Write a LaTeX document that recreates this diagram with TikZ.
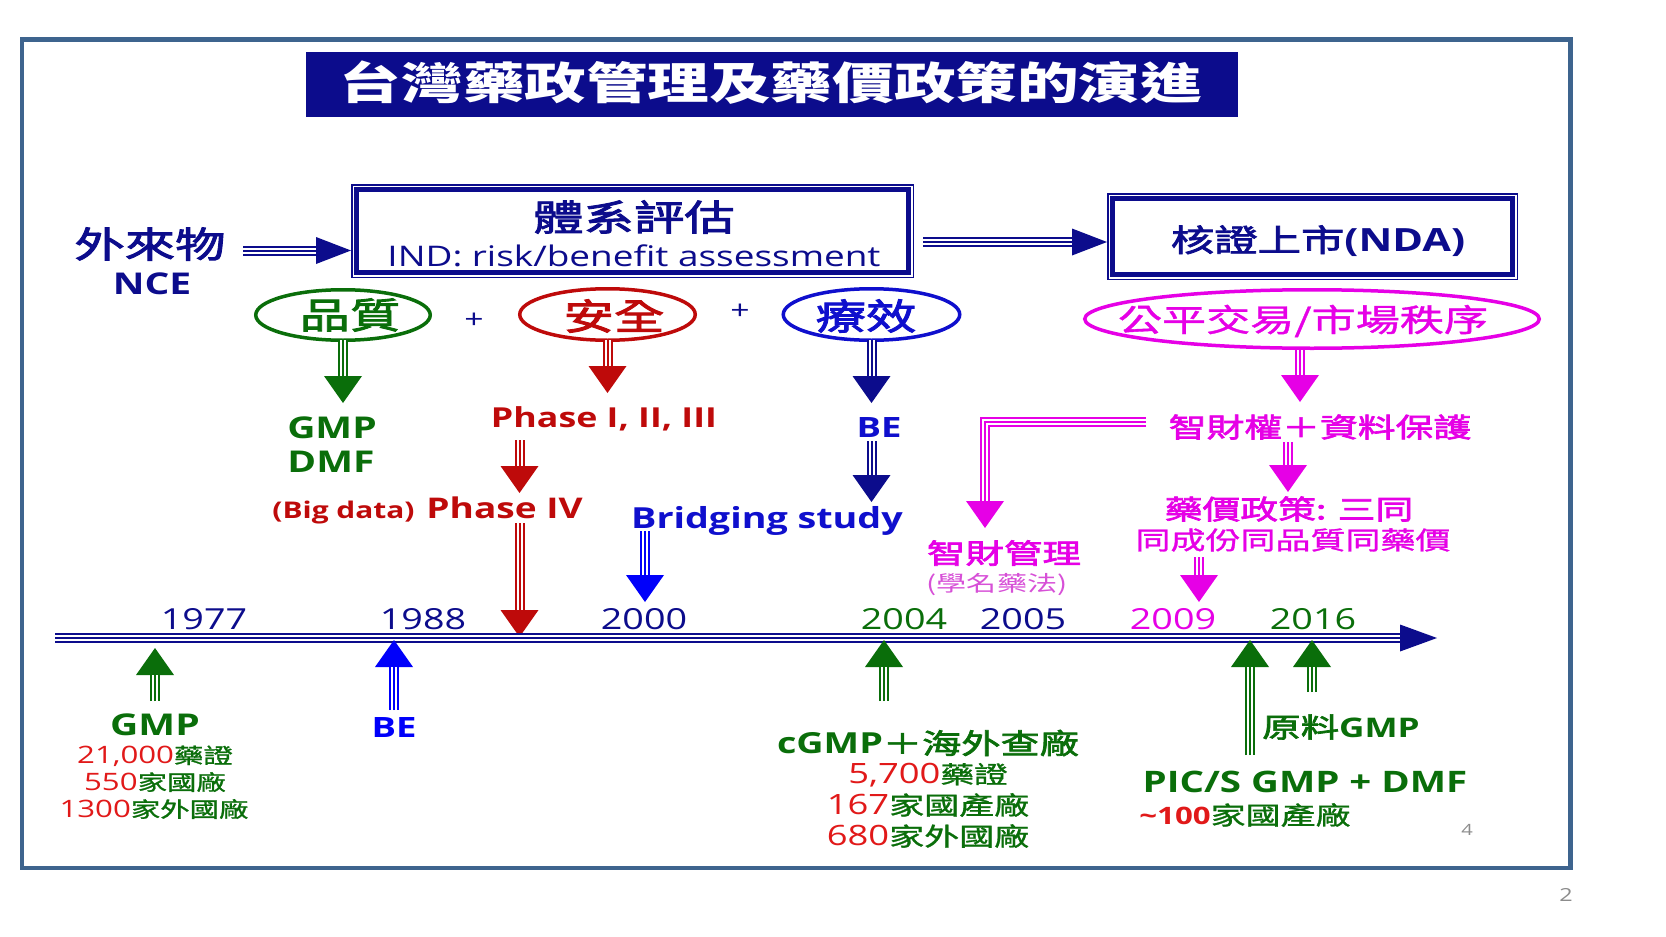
\documentclass[tikz,border=0pt]{standalone}
\usepackage{fontspec}
\setmainfont{Open Sans}[FakeStretch=1.3]
\newfontfamily\cjk{Noto Sans CJK TC}[FakeStretch=1.4]
\newfontfamily\cjkm{Noto Sans CJK TC}[FakeStretch=1.4, FakeBold=2.5]
\newfontfamily\cjkl{Noto Sans CJK TC}[FakeStretch=1.4, FakeBold=1.2]
\usetikzlibrary{arrows.meta,shapes.geometric}
\newcommand\sz[1]{\fontsize{#1pt}{#1pt}\selectfont}
\definecolor{navy}{RGB}{12,12,140}
\definecolor{dgreen}{RGB}{10,110,10}
\definecolor{dred}{RGB}{190,10,10}
\definecolor{bred}{RGB}{225,25,25}
\definecolor{myblue}{RGB}{15,15,205}
\definecolor{bblue}{RGB}{0,0,250}
\definecolor{mag}{RGB}{230,0,230}
\definecolor{lmag}{RGB}{215,80,215}
\definecolor{framec}{RGB}{62,100,142}
\definecolor{grayn}{RGB}{140,140,140}
\tikzset{
  t/.style={inner sep=0pt, outer sep=0pt, anchor=center},
  ell/.style={ellipse, draw, line width=1.75pt, inner sep=0pt, outer sep=0pt},
  boxd/.style={draw=navy, line width=2.5pt, inner sep=0pt, outer sep=0pt},
}
% triple-line arrow: colour, tip length, tip width, path
\newcommand\tarr[4]{%
  \draw[#1, line width=5pt, -{Triangle[length=#2pt, width=#3pt, line width=0pt]}] #4;
  \draw[white, line width=3pt, shorten >=#2pt] #4;
  \draw[#1, line width=1pt, shorten >=#2pt] #4;}
\begin{document}
\begin{tikzpicture}[x=0.5pt, y=-0.5pt]
\useasboundingbox (0,0) rectangle (1666,937);
\fill[white] (0,0) rectangle (1666,937);
% frame
\draw[framec, line width=2.25pt] (22,39.5) rectangle (1570.5,868);
% title
\node[t, fill=navy, minimum width=466pt, minimum height=32.5pt] (titlebox) at (772,84.5) {};
\node[t, text=white] (title) at (771,83) {\cjk\bfseries\sz{22}台灣藥政管理及藥價政策的演進};
% left
\node[t, text=navy] (wlw) at (150,244) {\cjkm\sz{18}外來物};
\node[t, text=navy] (nce) at (152,284) {\bfseries\sz{15}NCE};
% box 1
\node[t, boxd, minimum width=276pt, minimum height=41.5pt] (b1) at (632.5,231) {};
\draw[navy, line width=0.75pt] ([shift={(-4.75,-4.75)}]b1.north west) rectangle ([shift={(4.75,4.75)}]b1.south east);
\node[t, text=navy] (b1a) at (634,217) {\cjkm\sz{18}體系評估};
\node[t, text=navy] (b1b) at (634,256) {\sz{14.2}IND: risk/benefit assessment};
% box 2
\node[t, boxd, minimum width=200pt, minimum height=38pt] (b2) at (1312.5,236.5) {};
\draw[navy, line width=0.75pt] ([shift={(-4.75,-4.75)}]b2.north west) rectangle ([shift={(4.75,4.75)}]b2.south east);
\node[t, text=navy] (b2a) at (1318,241) {{\cjkm\sz{15.5}核證上市}{\bfseries\sz{16}(NDA)}};
% horizontal arrows
\coordinate (h1s) at (243,250.5); \coordinate (h1e) at (351,250.5);
\tarr{navy}{17.5}{13.5}{(h1s) -- (h1e)}
\coordinate (h2s) at (923,242); \coordinate (h2e) at (1107,242);
\tarr{navy}{17.5}{13.5}{(h2s) -- (h2e)}
% ellipses
\node[ell, draw=dgreen, minimum width=87.25pt, minimum height=25.25pt] (q) at (343,315) {};
\node[t, text=dgreen] (qt) at (350,315) {\cjkm\sz{18}品質};
\node[ell, draw=dred, minimum width=87.75pt, minimum height=25.75pt] (s) at (607.5,314.5) {};
\node[t, text=dred] (st) at (614,316) {\cjkm\sz{18}安全};
\node[ell, draw=myblue, minimum width=88.25pt, minimum height=25.75pt] (e) at (871.5,314.5) {};
\node[t, text=myblue] (et) at (866,316) {\cjkm\sz{18}療效};
\node[t, text=navy] (p1) at (474,321) {\sz{13}+};
\node[t, text=navy] (p2) at (740,312) {\sz{13}+};
\node[ell, draw=mag, minimum width=227.25pt, minimum height=29.25pt] (f) at (1312,319) {};
\node[t, text=mag] (ft) at (1303,321) {\cjkl\sz{15.75}公平交易/市場秩序};
% quality branch
\coordinate (aq) at (343,403);
\tarr{dgreen}{13.5}{19}{(q.south) -- (aq)}
\node[t, text=dgreen] (gmp1) at (332,428) {\bfseries\sz{15}GMP};
\node[t, text=dgreen] (dmf1) at (331,462) {\bfseries\sz{15}DMF};
% safety branch
\coordinate (as) at (607.5,393);
\tarr{dred}{13.5}{19}{(s.south) -- (as)}
\node[t, text=dred] (ph1) at (604,419) {\bfseries\sz{13.75}Phase I, II, III};
\coordinate (a5s) at (519.5,440); \coordinate (a5e) at (519.5,493);
\tarr{dred}{13.5}{19}{(a5s) -- (a5e)}
\node[anchor=base east, inner sep=0pt, text=dred] (bigd) at (415,518) {\bfseries\sz{11.5}(Big data)};
\node[anchor=base west, inner sep=0pt, text=dred] (ph4) at (426,518) {\bfseries\sz{14.25}Phase IV};
\coordinate (a6s) at (519.5,523); \coordinate (a6e) at (519.5,637);
\tarr{dred}{13.5}{19}{(a6s) -- (a6e)}
% efficacy branch
\coordinate (ae) at (871.5,403);
\tarr{navy}{13.5}{19}{(e.south) -- (ae)}
\node[t, text=myblue] (be1) at (879,428) {\bfseries\sz{14}BE};
\coordinate (a4s) at (871.5,441); \coordinate (a4e) at (871.5,502);
\tarr{navy}{13.5}{19}{(a4s) -- (a4e)}
\node[t, text=myblue] (brs) at (767,521) {\bfseries\sz{14.5}Bridging study};
\coordinate (a7s) at (645,531); \coordinate (a7e) at (645,602);
\tarr{bblue}{13.5}{19}{(a7s) -- (a7e)}
% fair trade branch
\coordinate (a8s) at (1300,350); \coordinate (a8e) at (1300,402);
\tarr{mag}{13.5}{19}{(a8s) -- (a8e)}
\node[t, text=mag] (ipr) at (1320,427) {\cjkm\sz{13.5}智財權＋資料保護};
\coordinate (Ls) at (1146,422); \coordinate (Lc) at (985,422); \coordinate (Le) at (985,528);
\tarr{mag}{13.5}{19}{(Ls) -- (Lc) -- (Le)}
\node[t, text=mag] (ipm) at (1004,553) {\cjkm\sz{13.75}智財管理};
\node[t, text=lmag] (gen) at (997,585) {\cjk\sz{10.75}(學名藥法)};
\coordinate (a9s) at (1288,442); \coordinate (a9e) at (1288,492);
\tarr{mag}{13.5}{19}{(a9s) -- (a9e)}
\node[t, text=mag] (pp1) at (1289,509) {\cjkm\sz{13.5}藥價政策: 三同};
\node[t, text=mag] (pp2) at (1293,540) {\cjkl\sz{12.5}同成份同品質同藥價};
\coordinate (a10s) at (1199,557); \coordinate (a10e) at (1199,602);
\tarr{mag}{13.5}{19}{(a10s) -- (a10e)}
% timeline
\coordinate (tl0) at (55,638); \coordinate (tl1) at (1437,638);
\tarr{navy}{18.5}{13.5}{(tl0) -- (tl1)}
\node[t, text=navy] (y1977) at (204,619) {\sz{14.5}1977};
\node[t, text=navy] (y1988) at (423,619) {\sz{14.5}1988};
\node[t, text=navy] (y2000) at (644,619) {\sz{14.5}2000};
\node[t, text=dgreen] (y2004) at (904,619) {\sz{14.5}2004};
\node[t, text=navy] (y2005) at (1023,619) {\sz{14.5}2005};
\node[t, text=mag] (y2009) at (1173,619) {\sz{14.5}2009};
\node[t, text=dgreen] (y2016) at (1313,619) {\sz{14.5}2016};
% up arrows
\coordinate (u1s) at (155,701); \coordinate (u1e) at (155,648);
\tarr{dgreen}{13.5}{19}{(u1s) -- (u1e)}
\coordinate (u2s) at (394,710); \coordinate (u2e) at (394,640);
\tarr{bblue}{13.5}{19}{(u2s) -- (u2e)}
\coordinate (u3s) at (884,701); \coordinate (u3e) at (884,640);
\tarr{dgreen}{13.5}{19}{(u3s) -- (u3e)}
\coordinate (u4s) at (1250,755); \coordinate (u4e) at (1250,640);
\tarr{dgreen}{13.5}{19}{(u4s) -- (u4e)}
\coordinate (u5s) at (1312,692); \coordinate (u5e) at (1312,640);
\tarr{dgreen}{13.5}{19}{(u5s) -- (u5e)}
% 1977 labels
\node[t, text=dgreen] (gmp77) at (155,725) {\bfseries\sz{15}GMP};
\node[t] (l77a) at (155,756) {\textcolor{bred}{\sz{12}21,000}\textcolor{dgreen}{\cjkl\sz{10.5}藥證}};
\node[t] (l77b) at (155,782) {\textcolor{bred}{\sz{12}550}\textcolor{dgreen}{\cjkl\sz{10.5}家國廠}};
\node[t] (l77c) at (154,809) {\textcolor{bred}{\sz{12}1300}\textcolor{dgreen}{\cjkl\sz{10.5}家外國廠}};
% 1988
\node[t, text=bblue] (be88) at (394,727) {\bfseries\sz{14}BE};
% 2004
\node[t, text=dgreen] (c04) at (928,743) {{\bfseries\sz{14.5}cGMP}{\cjkm\sz{14}＋海外查廠}};
\node[t] (l04a) at (928,775) {\textcolor{bred}{\sz{14}5,700}\textcolor{dgreen}{\cjkl\sz{12}藥證}};
\node[t] (l04b) at (928,805) {\textcolor{bred}{\sz{14}167}\textcolor{dgreen}{\cjkl\sz{12.5}家國產廠}};
\node[t] (l04c) at (928,836) {\textcolor{bred}{\sz{14}680}\textcolor{dgreen}{\cjkl\sz{12.5}家外國廠}};
% 2016 / PIC/S
\node[t, text=dgreen] (raw) at (1341,727) {{\cjkm\sz{13.75}原料}{\bfseries\sz{13.5}GMP}};
\node[t, text=dgreen] (pics) at (1305,782) {\bfseries\sz{14.8}PIC/S GMP + DMF};
\node[t] (l16) at (1245,815) {\textcolor{bred}{\bfseries\sz{12}\textasciitilde100}\textcolor{dgreen}{\cjkl\sz{12.5}家國產廠}};
% page numbers
\node[t, text=grayn] (pg4) at (1467,830) {\sz{7.75}4};
\node[t, text=grayn] (pg2) at (1566,895) {\sz{9}2};
\end{tikzpicture}
\end{document}
